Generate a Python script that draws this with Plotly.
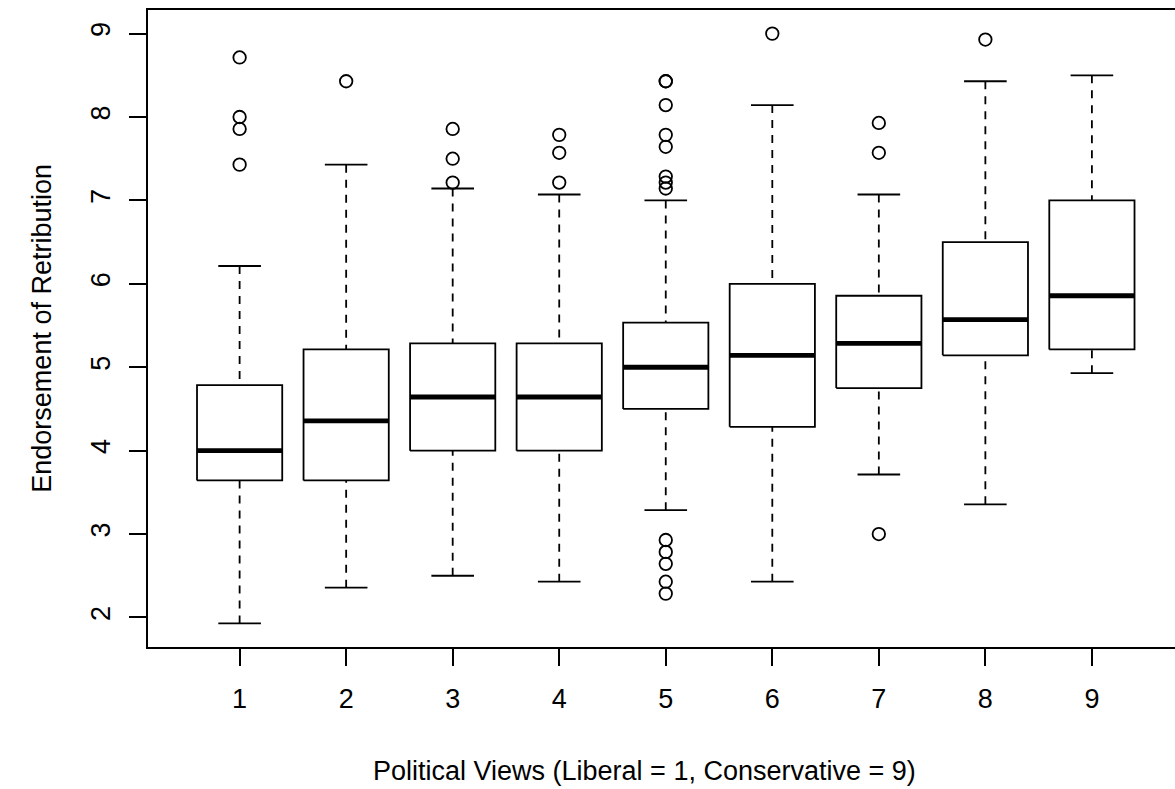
import plotly.graph_objects as go

# Political views groups (1 = liberal ... 9 = conservative)
groups = [1, 2, 3, 4, 5, 6, 7, 8, 9]

# Five-number summaries of endorsement of retribution per group
whisker_low = [1.929, 2.357, 2.500, 2.429, 3.286, 2.429, 3.714, 3.357, 4.929]
q1 = [3.643, 3.643, 4.000, 4.000, 4.500, 4.286, 4.750, 5.143, 5.214]
median = [4.000, 4.357, 4.643, 4.643, 5.000, 5.143, 5.286, 5.571, 5.857]
q3 = [4.786, 5.214, 5.286, 5.286, 5.536, 6.000, 5.857, 6.500, 7.000]
whisker_high = [6.214, 7.429, 7.143, 7.071, 7.000, 8.143, 7.071, 8.429, 8.500]

# Points beyond the whiskers, per group
outliers = [
    [8.714, 8.000, 7.857, 7.429],
    [8.429],
    [7.857, 7.500, 7.214],
    [7.786, 7.571, 7.214],
    [8.429, 8.429, 8.143, 7.786, 7.643, 7.286, 7.214, 7.143,
     2.929, 2.786, 2.643, 2.429, 2.286],
    [9.000],
    [7.929, 7.571, 3.000],
    [8.929],
    [],
]

y_ticks = [2, 3, 4, 5, 6, 7, 8, 9]

BOX_HALF = 0.4     # half box width in x units
CAP_HALF = 0.2     # half staple width in x units
FONT = "Liberation Sans, Arial, Helvetica, sans-serif"
FS = 27
LINE_W = 1.8

# Build geometry for boxes, medians, whiskers and staples
box_x, box_y = [], []
med_x, med_y = [], []
wh_x, wh_y = [], []
cap_x, cap_y = [], []
for g, lo, a, m, b, hi in zip(groups, whisker_low, q1, median, q3, whisker_high):
    box_x += [g - BOX_HALF, g + BOX_HALF, g + BOX_HALF, g - BOX_HALF, g - BOX_HALF, None]
    box_y += [a, a, b, b, a, None]
    med_x += [g - BOX_HALF, g + BOX_HALF, None]
    med_y += [m, m, None]
    wh_x += [g, g, None, g, g, None]
    wh_y += [hi, b, None, lo, a, None]
    cap_x += [g - CAP_HALF, g + CAP_HALF, None, g - CAP_HALF, g + CAP_HALF, None]
    cap_y += [hi, hi, None, lo, lo, None]

out_x, out_y = [], []
for g, pts in zip(groups, outliers):
    out_x += [g] * len(pts)
    out_y += pts

fig = go.Figure()
fig.add_trace(go.Scatter(x=wh_x, y=wh_y, mode="lines",
                         line=dict(color="black", width=LINE_W, dash="8px,7px"),
                         hoverinfo="skip"))
fig.add_trace(go.Scatter(x=cap_x, y=cap_y, mode="lines",
                         line=dict(color="black", width=LINE_W), hoverinfo="skip"))
fig.add_trace(go.Scatter(x=box_x, y=box_y, mode="lines", fill="toself",
                         fillcolor="white",
                         line=dict(color="black", width=LINE_W), hoverinfo="skip"))
fig.add_trace(go.Scatter(x=med_x, y=med_y, mode="lines",
                         line=dict(color="black", width=4.8), hoverinfo="skip"))
fig.add_trace(go.Scatter(x=out_x, y=out_y, mode="markers",
                         marker=dict(symbol="circle-open", size=12.5, color="black",
                                     line=dict(width=1.8, color="black"))))

fig.update_layout(
    width=1175, height=789,
    margin=dict(l=148, r=0, t=10, b=142),
    paper_bgcolor="white", plot_bgcolor="white",
    showlegend=False,
    font=dict(family=FONT, size=FS, color="black"),
    xaxis=dict(range=[0.14, 9.78], tickmode="array", tickvals=groups,
               ticktext=[str(g) for g in groups],
               showgrid=False, zeroline=False,
               showline=True, mirror=True, linecolor="black", linewidth=LINE_W,
               ticks="outside", ticklen=17, tickwidth=LINE_W, tickcolor="black",
               ticklabelstandoff=10,
               tickfont=dict(family=FONT, size=FS, color="black")),
    yaxis=dict(range=[1.646, 9.283], tickmode="array", tickvals=y_ticks,
               ticktext=[str(v) for v in y_ticks],
               showgrid=False, zeroline=False,
               showline=True, mirror=False, linecolor="black", linewidth=LINE_W,
               ticks="outside", ticklen=17, tickwidth=LINE_W, tickcolor="black",
               tickangle=-90, ticklabelstandoff=8,
               tickfont=dict(family=FONT, size=FS, color="black")),
    annotations=[
        dict(text="Political Views (Liberal = 1, Conservative = 9)",
             xref="paper", yref="paper", x=0.483, y=-0.195,
             xanchor="center", yanchor="middle", showarrow=False,
             font=dict(family=FONT, size=FS, color="black")),
        dict(text="Endorsement of Retribution",
             xref="paper", yref="paper", x=-0.104, y=0.5, textangle=-90,
             xanchor="center", yanchor="middle", showarrow=False,
             font=dict(family=FONT, size=FS, color="black")),
    ],
)

fig.write_html("out.html")
